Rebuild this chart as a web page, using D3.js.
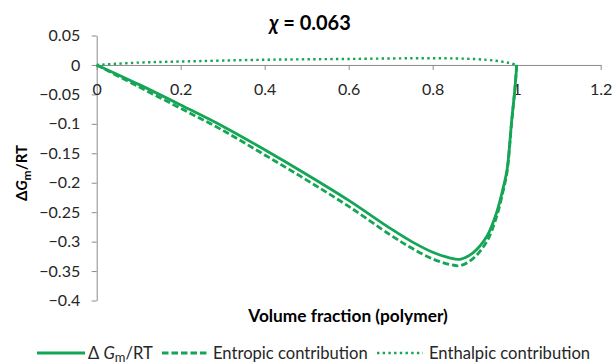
<!DOCTYPE html>
<html>
<head>
<meta charset="utf-8">
<script src="https://cdn.jsdelivr.net/npm/d3@7"></script>
<style>
  html, body { margin: 0; padding: 0; background: #fff; }
  svg { display: block; font-family: Lato, "Open Sans", sans-serif; }
</style>
</head>
<body>
<svg id="chart" width="615" height="363"></svg>
<script>
// ---- data ----
const xTicks = [0, 0.2, 0.4, 0.6, 0.8, 1, 1.2];
const yTicks = [0.05, 0, -0.05, -0.1, -0.15, -0.2, -0.25, -0.3, -0.35, -0.4];

const phiMain   = [0, 0.1, 0.2, 0.3, 0.4, 0.5, 0.6, 0.7, 0.75, 0.8, 0.84, 0.865, 0.896, 0.929, 0.952, 0.968, 0.977, 0.988, 0.996, 1];
const totalG    = [0, -0.033, -0.068, -0.104, -0.144, -0.186, -0.230, -0.278, -0.300, -0.318, -0.3275, -0.330, -0.319, -0.291, -0.251, -0.208, -0.178, -0.095, -0.038, 0];
const entropic  = [0, -0.037, -0.0738, -0.111, -0.1528, -0.1955, -0.2402, -0.289, -0.311, -0.3294, -0.3387, -0.3408, -0.329, -0.2995, -0.258, -0.213, -0.182, -0.097, -0.039, 0];

const phiEnth   = [0, 0.1, 0.2, 0.4, 0.6, 0.8, 0.9, 0.95, 0.98, 1];
const enthalpic = [0, 0.004, 0.0058, 0.0088, 0.0102, 0.0114, 0.010, 0.0071, 0.0037, 0];

const seriesNames = ["Entropic contribution", "Enthalpic contribution"];

// ---- layout ----
const svg = d3.select("#chart");
const green = "#14A555";
const axisGrey = "#8c8c8c";
const textCol = "#262626";

const x = d3.scaleLinear().domain([0, 1.2]).range([96.7, 600.7]);
const y = d3.scaleLinear().domain([-0.4, 0.05]).range([300.5, 35.5]);

// Y axis
const yAxis = svg.append("g")
  .attr("transform", `translate(${x(0)},0)`)
  .call(d3.axisLeft(y).tickValues(yTicks).tickFormat(d3.format(".2~f")).tickSize(5).tickPadding(11.5).tickSizeOuter(0));
yAxis.select(".domain").attr("stroke", axisGrey);
yAxis.selectAll(".tick line").attr("stroke", axisGrey);
yAxis.selectAll(".tick text").attr("fill", textCol).style("font-size", "16px").style("font-family", "Lato, sans-serif");

// X axis at zero
const xAxis = svg.append("g")
  .attr("transform", `translate(0,${y(0)})`)
  .call(d3.axisBottom(x).tickValues(xTicks).tickFormat(d => String(+d.toFixed(1))).tickSize(5).tickPadding(14).tickSizeOuter(0));
xAxis.select(".domain").attr("stroke", axisGrey);
xAxis.selectAll(".tick line").attr("stroke", axisGrey);
xAxis.selectAll(".tick text").attr("fill", textCol).style("font-size", "16px").style("font-family", "Lato, sans-serif");

// Lines
const curve = d3.curveCatmullRom.alpha(0.5);
const lineMain = d3.line().x((d, i) => x(phiMain[i])).y(d => y(d)).curve(curve);
const lineEnth = d3.line().x((d, i) => x(phiEnth[i])).y(d => y(d)).curve(curve);

svg.append("path").attr("d", lineEnth(enthalpic))
  .attr("fill", "none").attr("stroke", green).attr("stroke-width", 2.4)
  .attr("stroke-dasharray", "2.4,3.3");
svg.append("path").attr("d", lineMain(entropic))
  .attr("fill", "none").attr("stroke", green).attr("stroke-width", 2.8)
  .attr("stroke-dasharray", "6.5,3");
svg.append("path").attr("d", lineMain(totalG))
  .attr("fill", "none").attr("stroke", green).attr("stroke-width", 2.8);

// Title
const title = svg.append("text").attr("x", 310).attr("y", 30).attr("text-anchor", "middle")
  .attr("fill", "#000").style("font-weight", "bold").style("font-size", "20px");
title.append("tspan").style("font-style", "italic").text("χ");
title.append("tspan").text(" = 0.063");

// X axis title
svg.append("text").attr("x", 348).attr("y", 322).attr("text-anchor", "middle")
  .attr("fill", "#000").style("font-weight", "bold").style("font-size", "17.3px")
  .text("Volume fraction (polymer)");

// Y axis title
const yt = svg.append("text").attr("transform", "translate(27,173) rotate(-90)")
  .attr("text-anchor", "middle").attr("fill", "#000")
  .style("font-weight", "bold").style("font-size", "15px");
yt.append("tspan").text("Δ");
yt.append("tspan").style("font-style", "italic").text("G");
yt.append("tspan").attr("dy", 4).style("font-size", "12px").text("m");
yt.append("tspan").attr("dy", -4).text("/RT");

// Legend
const legY = 353;
const legFont = "16.6px";
const leg = svg.append("g");
leg.append("line").attr("x1", 37).attr("x2", 85).attr("y1", legY).attr("y2", legY)
  .attr("stroke", green).attr("stroke-width", 2.8);
const l1 = leg.append("text").attr("x", 88).attr("y", legY + 5.5).attr("fill", textCol).style("font-size", legFont);
l1.append("tspan").text("Δ ");
l1.append("tspan").style("font-style", "italic").text("G");
l1.append("tspan").attr("dy", 3).style("font-size", "13px").text("m");
l1.append("tspan").attr("dy", -3).text("/RT");

leg.append("line").attr("x1", 162).attr("x2", 208).attr("y1", legY).attr("y2", legY)
  .attr("stroke", green).attr("stroke-width", 2.8).attr("stroke-dasharray", "6.5,3");
leg.append("text").attr("x", 213).attr("y", legY + 5.5).attr("fill", textCol).style("font-size", legFont)
  .text(seriesNames[0]);

leg.append("line").attr("x1", 377).attr("x2", 423).attr("y1", legY).attr("y2", legY)
  .attr("stroke", green).attr("stroke-width", 2.4).attr("stroke-dasharray", "2.4,3.3");
leg.append("text").attr("x", 429).attr("y", legY + 5.5).attr("fill", textCol).style("font-size", legFont)
  .text(seriesNames[1]);
</script>
</body>
</html>
